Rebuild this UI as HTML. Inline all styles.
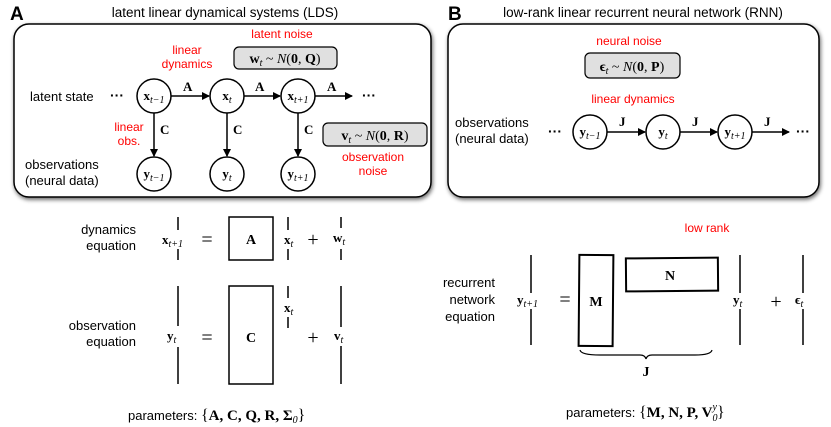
<!DOCTYPE html>
<html><head><meta charset="utf-8"><style>
html,body{margin:0;padding:0;background:#fff;}
svg{display:block;}
.s{font-family:"Liberation Sans",sans-serif;}
.m{font-family:"Liberation Serif",serif;font-weight:bold;}
.i{font-family:"Liberation Serif",serif;font-style:italic;font-weight:normal;}
.r{fill:#f00;}
</style></head><body>
<svg width="831" height="427" viewBox="0 0 831 427" xmlns="http://www.w3.org/2000/svg">
<defs>
<marker id="ar" markerWidth="8" markerHeight="8" refX="7" refY="4" orient="auto" markerUnits="userSpaceOnUse"><path d="M0,0 L8,4 L0,8 Z" fill="#000"/></marker>
<filter id="sh" x="-5%" y="-5%" width="110%" height="115%"><feGaussianBlur in="SourceAlpha" stdDeviation="2"/><feOffset dx="1" dy="2"/><feComponentTransfer><feFuncA type="linear" slope="0.6"/></feComponentTransfer><feMerge><feMergeNode/><feMergeNode in="SourceGraphic"/></feMerge></filter>
</defs>
<g fill="#000" stroke="none">
<!-- Panel A -->
<text x="10" y="20" class="s" font-size="19" font-weight="bold">A</text>
<text x="225" y="17" class="s" font-size="13.5" text-anchor="middle">latent linear dynamical systems (LDS)</text>
<rect x="14" y="24" width="417" height="173" rx="15" fill="#fff" stroke="#000" stroke-width="1.5" filter="url(#sh)"/>
<text x="282" y="38" class="s r" font-size="12" text-anchor="middle">latent noise</text>
<text x="187" y="54" class="s r" font-size="12" text-anchor="middle">linear</text>
<text x="187" y="68" class="s r" font-size="12" text-anchor="middle">dynamics</text>
<rect x="234" y="47" width="103" height="22" rx="5" fill="#e0e0e0" stroke="#000" stroke-width="1.2"/>
<text x="285" y="63" class="m" font-size="14" text-anchor="middle">w<tspan class="i" font-size="10" dy="3">t</tspan><tspan dy="-3" font-weight="normal"> ~ </tspan><tspan class="i">N</tspan><tspan font-weight="normal">(</tspan>0<tspan font-weight="normal">, </tspan>Q<tspan font-weight="normal">)</tspan></text>
<text x="30" y="101" class="s" font-size="13">latent state</text>
<text x="110" y="100" class="s" font-size="14" font-weight="bold">···</text>
<text x="362" y="100" class="s" font-size="14" font-weight="bold">···</text>
<g fill="#fff" stroke="#000" stroke-width="1.5">
<circle cx="154" cy="96" r="17"/><circle cx="227" cy="96" r="17"/><circle cx="298" cy="96" r="17"/>
<circle cx="154" cy="174" r="17"/><circle cx="227" cy="174" r="17"/><circle cx="298" cy="174" r="17"/>
</g>
<g stroke="#000" stroke-width="1.5" marker-end="url(#ar)">
<line x1="171" y1="96" x2="209" y2="96"/><line x1="244" y1="96" x2="280" y2="96"/><line x1="315" y1="96" x2="352" y2="96"/>
<line x1="154" y1="113" x2="154" y2="156"/><line x1="227" y1="113" x2="227" y2="156"/><line x1="298" y1="113" x2="298" y2="156"/>
</g>
<g class="m" font-size="13">
<text x="183" y="91">A</text><text x="255" y="91">A</text><text x="327" y="91">A</text>
<text x="160" y="134">C</text><text x="233" y="134">C</text><text x="304" y="134">C</text>
</g>
<g class="m" font-size="13" text-anchor="middle">
<text x="154" y="100">x<tspan class="i" font-size="10" dy="3">t−1</tspan></text>
<text x="227" y="100">x<tspan class="i" font-size="10" dy="3">t</tspan></text>
<text x="298" y="100">x<tspan class="i" font-size="10" dy="3">t+1</tspan></text>
<text x="154" y="178">y<tspan class="i" font-size="10" dy="3">t−1</tspan></text>
<text x="227" y="178">y<tspan class="i" font-size="10" dy="3">t</tspan></text>
<text x="298" y="178">y<tspan class="i" font-size="10" dy="3">t+1</tspan></text>
</g>
<text x="129" y="131" class="s r" font-size="12" text-anchor="middle">linear</text>
<text x="129" y="145" class="s r" font-size="12" text-anchor="middle">obs.</text>
<rect x="323" y="123" width="104" height="23" rx="5" fill="#e0e0e0" stroke="#000" stroke-width="1.2"/>
<text x="375" y="140" class="m" font-size="14" text-anchor="middle">v<tspan class="i" font-size="10" dy="3">t</tspan><tspan dy="-3" font-weight="normal"> ~ </tspan><tspan class="i">N</tspan><tspan font-weight="normal">(</tspan>0<tspan font-weight="normal">, </tspan>R<tspan font-weight="normal">)</tspan></text>
<text x="373" y="161" class="s r" font-size="12" text-anchor="middle">observation</text>
<text x="373" y="175" class="s r" font-size="12" text-anchor="middle">noise</text>
<text x="25" y="169" class="s" font-size="13">observations</text>
<text x="25" y="185" class="s" font-size="13">(neural data)</text>

<!-- Panel B -->
<text x="448" y="20" class="s" font-size="19" font-weight="bold">B</text>
<text x="643" y="17" class="s" font-size="13.5" text-anchor="middle">low-rank linear recurrent neural network (RNN)</text>
<rect x="448" y="24" width="371" height="173" rx="15" fill="#fff" stroke="#000" stroke-width="1.5" filter="url(#sh)"/>
<text x="629" y="45" class="s r" font-size="12" text-anchor="middle">neural noise</text>
<rect x="585" y="53" width="95" height="25" rx="5" fill="#e0e0e0" stroke="#000" stroke-width="1.2"/>
<text x="632" y="71" class="m" font-size="14" text-anchor="middle">ϵ<tspan class="i" font-size="10" dy="3">t</tspan><tspan dy="-3" font-weight="normal"> ~ </tspan><tspan class="i">N</tspan><tspan font-weight="normal">(</tspan>0<tspan font-weight="normal">, </tspan>P<tspan font-weight="normal">)</tspan></text>
<text x="633" y="103" class="s r" font-size="12" text-anchor="middle">linear dynamics</text>
<text x="455" y="127" class="s" font-size="13">observations</text>
<text x="455" y="143" class="s" font-size="13">(neural data)</text>
<text x="548" y="136" class="s" font-size="14" font-weight="bold">···</text>
<text x="796" y="136" class="s" font-size="14" font-weight="bold">···</text>
<g fill="#fff" stroke="#000" stroke-width="1.5">
<circle cx="590" cy="132" r="17"/><circle cx="663" cy="132" r="17"/><circle cx="735" cy="132" r="17"/>
</g>
<g stroke="#000" stroke-width="1.5" marker-end="url(#ar)">
<line x1="607" y1="132" x2="645" y2="132"/><line x1="680" y1="132" x2="717" y2="132"/><line x1="752" y1="132" x2="789" y2="132"/>
</g>
<g class="m" font-size="13">
<text x="619" y="126">J</text><text x="692" y="126">J</text><text x="764" y="126">J</text>
</g>
<g class="m" font-size="13" text-anchor="middle">
<text x="590" y="136">y<tspan class="i" font-size="10" dy="3">t−1</tspan></text>
<text x="663" y="136">y<tspan class="i" font-size="10" dy="3">t</tspan></text>
<text x="735" y="136">y<tspan class="i" font-size="10" dy="3">t+1</tspan></text>
</g>

<!-- Bottom A -->
<text x="136" y="234" class="s" font-size="13" text-anchor="end">dynamics</text>
<text x="136" y="250" class="s" font-size="13" text-anchor="end">equation</text>
<g stroke="#000" stroke-width="1.5">
<line x1="178" y1="217" x2="178" y2="230"/><line x1="178" y1="249" x2="178" y2="260"/>
<line x1="288" y1="217" x2="288" y2="230"/><line x1="288" y1="249" x2="288" y2="260"/>
<line x1="341" y1="217" x2="341" y2="228"/><line x1="341" y1="249" x2="341" y2="260"/>
<line x1="178" y1="286" x2="178" y2="326"/><line x1="178" y1="347" x2="178" y2="384"/>
<line x1="288" y1="286" x2="288" y2="298"/><line x1="288" y1="317" x2="288" y2="328"/>
<line x1="341" y1="286" x2="341" y2="327"/><line x1="341" y1="346" x2="341" y2="384"/>
</g>
<rect x="229" y="217" width="44" height="43" fill="none" stroke="#000" stroke-width="1.5"/>
<rect x="229" y="286" width="44" height="98" fill="none" stroke="#000" stroke-width="1.5"/>
<text x="251" y="244" class="m" font-size="14" text-anchor="middle">A</text>
<text x="251" y="342" class="m" font-size="14" text-anchor="middle">C</text>
<g class="m" font-size="13">
<text x="162" y="244">x<tspan class="i" font-size="10" dy="3">t+1</tspan></text>
<text x="284" y="244">x<tspan class="i" font-size="10" dy="3">t</tspan></text>
<text x="333" y="242">w<tspan class="i" font-size="10" dy="3">t</tspan></text>
<text x="167" y="340">y<tspan class="i" font-size="10" dy="3">t</tspan></text>
<text x="284" y="312">x<tspan class="i" font-size="10" dy="3">t</tspan></text>
<text x="334" y="340">v<tspan class="i" font-size="10" dy="3">t</tspan></text>
</g>
<g font-family="Liberation Serif,serif" font-size="20" text-anchor="middle">
<text x="207" y="246">=</text><text x="313" y="246">+</text>
<text x="207" y="344">=</text><text x="313" y="344">+</text>
</g>
<text x="136" y="330" class="s" font-size="13" text-anchor="end">observation</text>
<text x="136" y="346" class="s" font-size="13" text-anchor="end">equation</text>
<text x="128" y="420" class="s" font-size="13">parameters: <tspan font-family="Liberation Serif,serif" font-size="16">{</tspan><tspan class="m" font-size="15">A, C, Q, R, Σ</tspan><tspan class="i" font-size="10" dy="3">0</tspan><tspan font-family="Liberation Serif,serif" font-size="16" dy="-3">}</tspan></text>

<!-- Bottom B -->
<text x="707" y="232" class="s r" font-size="12" text-anchor="middle">low rank</text>
<text x="495" y="287" class="s" font-size="13" text-anchor="end">recurrent</text>
<text x="495" y="304" class="s" font-size="13" text-anchor="end">network</text>
<text x="495" y="321" class="s" font-size="13" text-anchor="end">equation</text>
<g stroke="#000" stroke-width="1.5">
<line x1="531" y1="255" x2="531" y2="293"/><line x1="531" y1="309" x2="531" y2="345"/>
<line x1="740" y1="255" x2="740" y2="293"/><line x1="740" y1="309" x2="740" y2="345"/>
<line x1="803" y1="255" x2="803" y2="293"/><line x1="803" y1="309" x2="803" y2="345"/>
</g>
<rect x="579" y="255" width="34" height="91" fill="none" stroke="#000" stroke-width="2" transform="rotate(0.5 596 300)"/>
<rect x="626" y="258" width="92" height="33" fill="none" stroke="#000" stroke-width="2" transform="rotate(-0.5 672 275)"/>
<text x="596" y="306" class="m" font-size="14" text-anchor="middle">M</text>
<text x="670" y="280" class="m" font-size="14" text-anchor="middle">N</text>
<g class="m" font-size="13">
<text x="517" y="304">y<tspan class="i" font-size="10" dy="3">t+1</tspan></text>
<text x="733" y="304">y<tspan class="i" font-size="10" dy="3">t</tspan></text>
<text x="795" y="304">ϵ<tspan class="i" font-size="10" dy="3">t</tspan></text>
</g>
<g font-family="Liberation Serif,serif" font-size="20" text-anchor="middle">
<text x="565" y="306">=</text><text x="776" y="308">+</text>
</g>
<path d="M580,350 Q581,355 600,355 L640,355 Q645,355 646,359 Q647,355 652,355 L695,355 Q711,355 712,350" fill="none" stroke="#000" stroke-width="1.2"/>
<text x="646" y="376" class="m" font-size="14" text-anchor="middle">J</text>
<text x="566" y="417" class="s" font-size="13">parameters: <tspan font-family="Liberation Serif,serif" font-size="16">{</tspan><tspan class="m" font-size="15">M, N, P, V</tspan><tspan class="i" font-size="10" dy="4">0</tspan><tspan class="i" font-size="10" dx="-5" dy="-11">y</tspan><tspan font-family="Liberation Serif,serif" font-size="16" dy="7">}</tspan></text>
</g>
</svg>
</body></html>
